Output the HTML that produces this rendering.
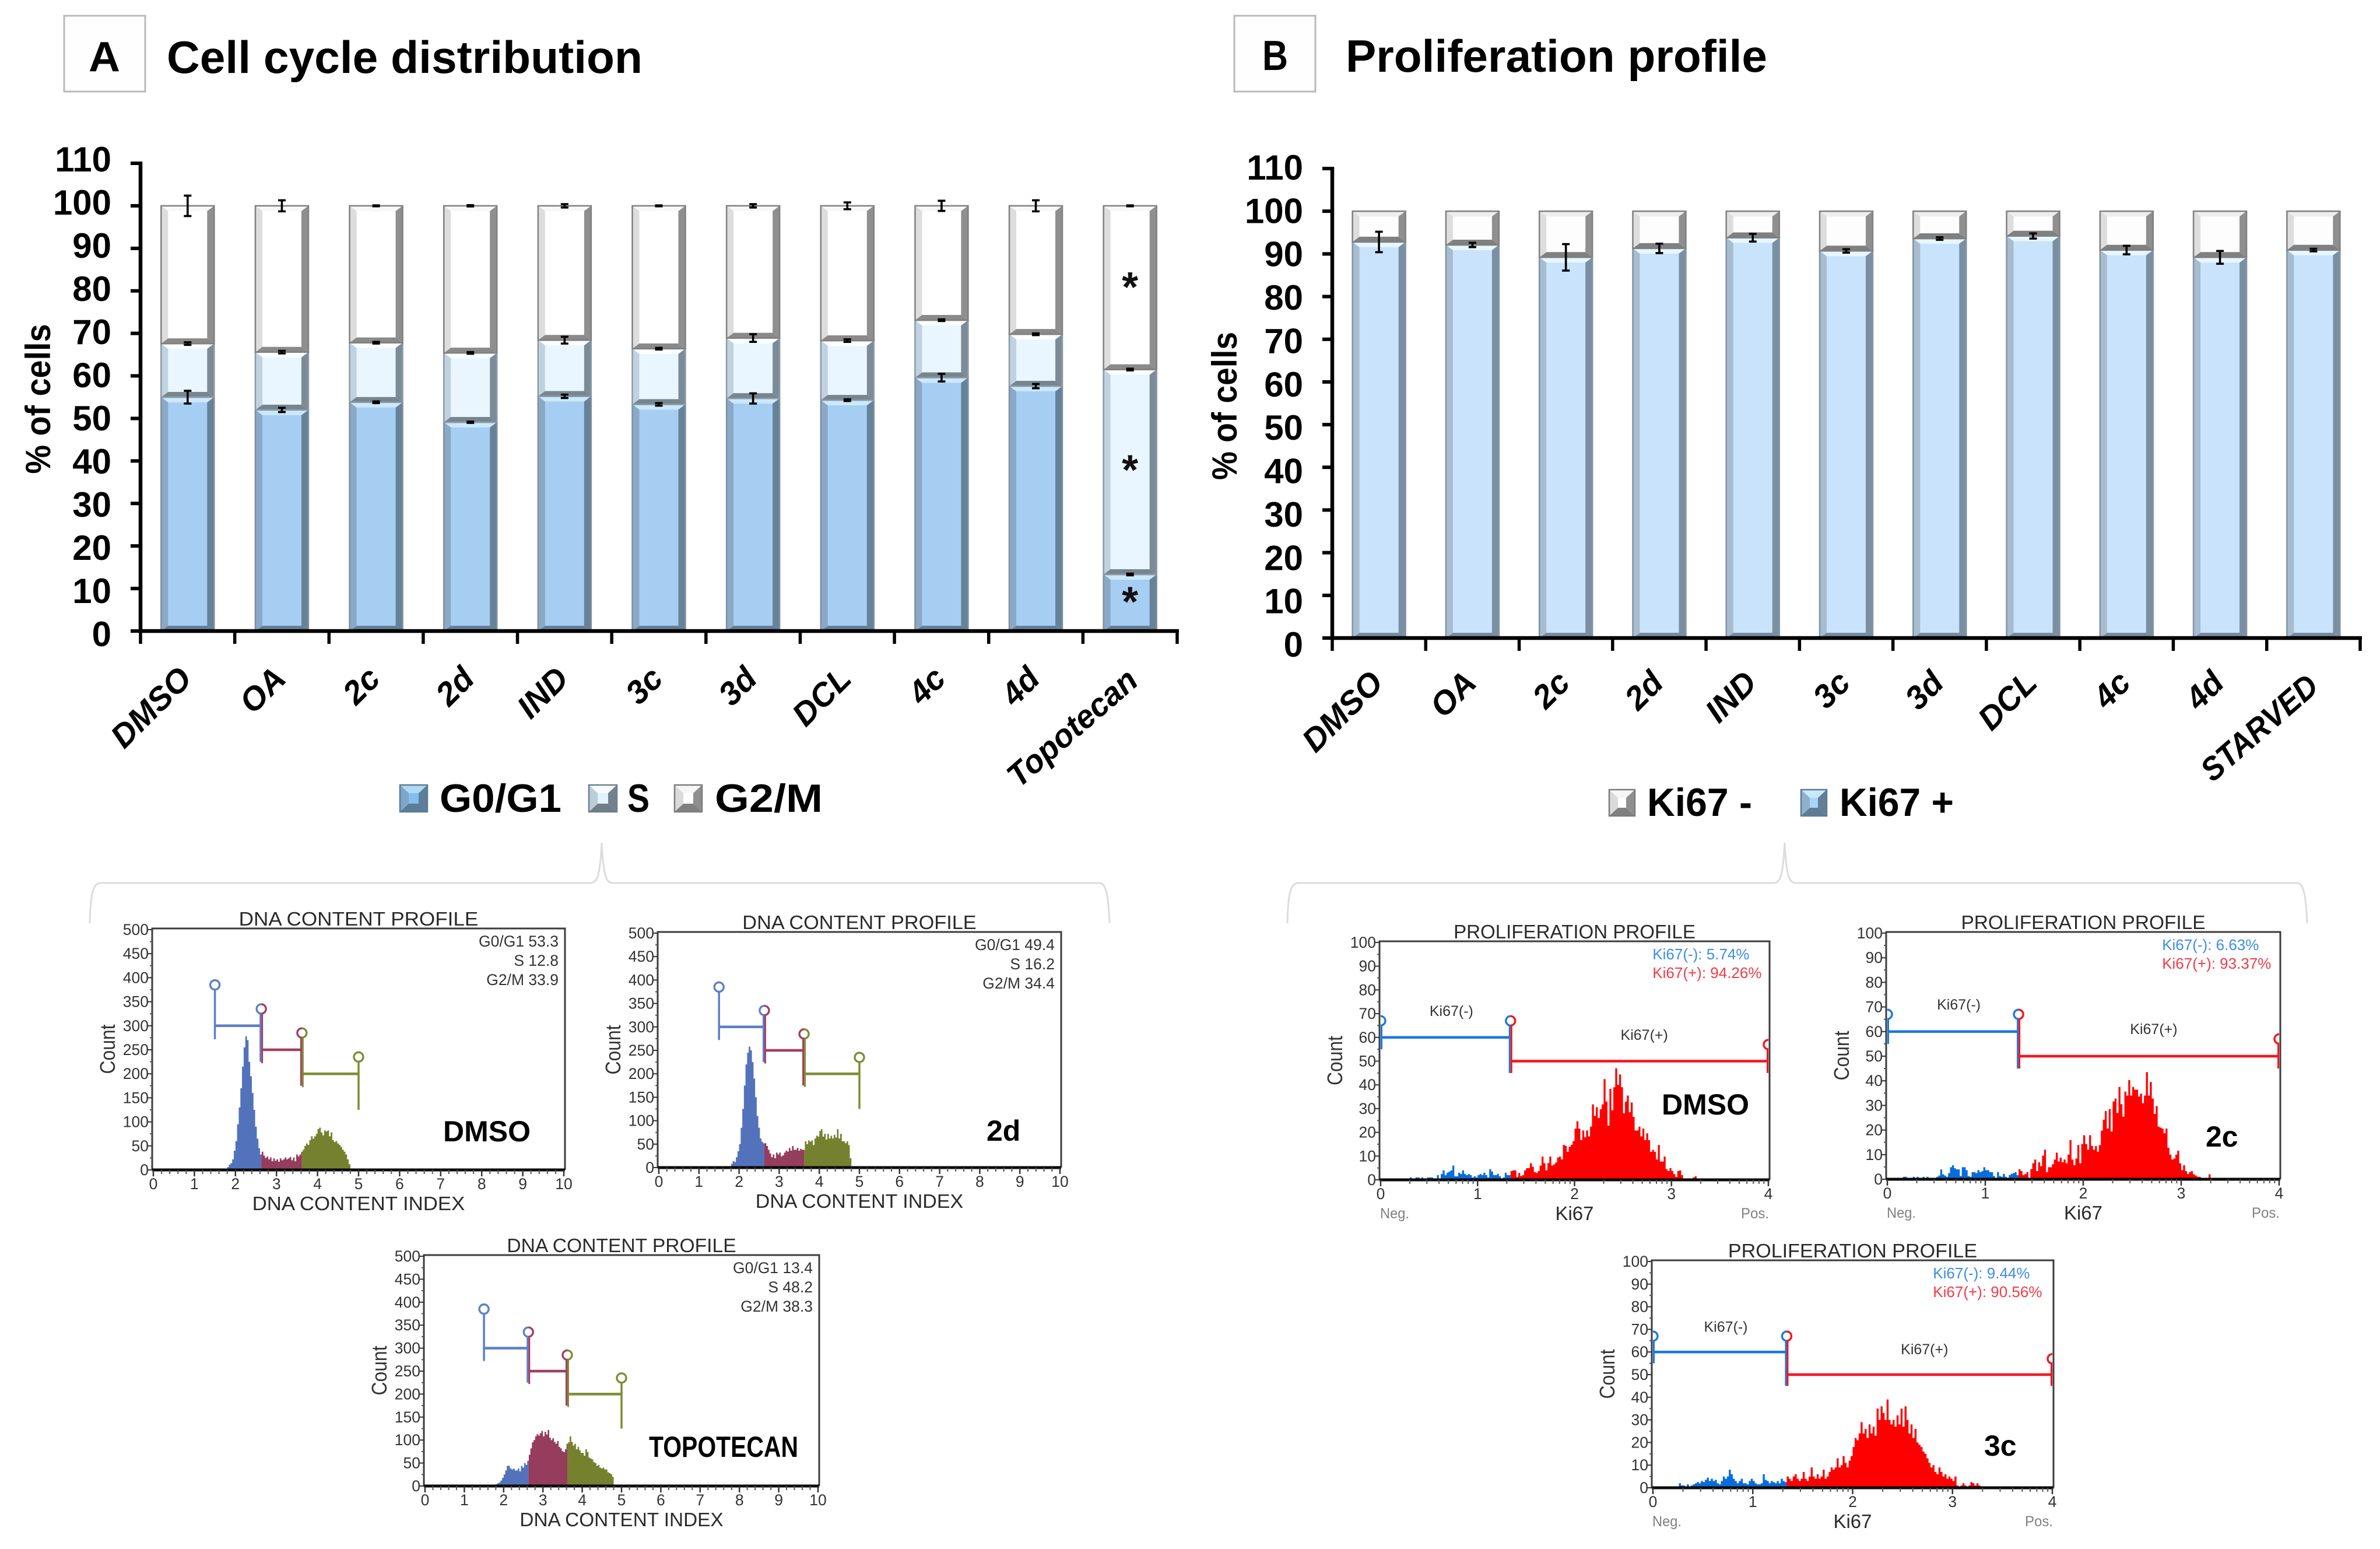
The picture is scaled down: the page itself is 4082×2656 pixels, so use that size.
<!DOCTYPE html>
<html lang="en">
<head>
<meta charset="utf-8">
<title>Cell cycle distribution and proliferation profile</title>
<style>
html,body{margin:0;padding:0;background:#fff}
svg{display:block}
text{font-family:"Liberation Sans",Arial,sans-serif}
</style>
</head>
<body>
<svg id="fig" width="4082" height="2656" viewBox="0 0 4082 2656" xmlns="http://www.w3.org/2000/svg">
  <rect x="0" y="0" width="4082" height="2656" fill="#ffffff"/>

  <rect x="110" y="27" width="139" height="130" fill="#fefefe" stroke="#b9b9b9" stroke-width="3"/>
  <text x="179" y="122" font-size="72" font-weight="700" text-anchor="middle" fill="#000" textLength="54" lengthAdjust="spacingAndGlyphs">A</text>
  <text x="286" y="125" font-size="78" font-weight="700" fill="#000" textLength="816" lengthAdjust="spacingAndGlyphs">Cell cycle distribution</text>

  <rect x="2117" y="27" width="139" height="130" fill="#fefefe" stroke="#b9b9b9" stroke-width="3"/>
  <text x="2187" y="120" font-size="72" font-weight="700" text-anchor="middle" fill="#000" textLength="44" lengthAdjust="spacingAndGlyphs">B</text>
  <text x="2308" y="123" font-size="78" font-weight="700" fill="#000" textLength="723" lengthAdjust="spacingAndGlyphs">Proliferation profile</text>

  <text transform="translate(86 684) rotate(-90)" font-size="60" font-weight="700" text-anchor="middle" fill="#000" textLength="257" lengthAdjust="spacingAndGlyphs">% of cells</text>
  <text transform="translate(2121 696) rotate(-90)" font-size="60" font-weight="700" text-anchor="middle" fill="#000" textLength="254" lengthAdjust="spacingAndGlyphs">% of cells</text>

  <g id="chartA"></g>
  <g id="chartB"></g>

  <g id="legendA">
    <text x="754" y="1392" font-size="68" font-weight="700" textLength="209" lengthAdjust="spacingAndGlyphs">G0/G1</text>
    <text x="1076" y="1392" font-size="68" font-weight="700" textLength="38" lengthAdjust="spacingAndGlyphs">S</text>
    <text x="1226" y="1392" font-size="68" font-weight="700" textLength="185" lengthAdjust="spacingAndGlyphs">G2/M</text>
  </g>
  <g id="legendB">
    <text x="2825" y="1399" font-size="68" font-weight="700" textLength="180" lengthAdjust="spacingAndGlyphs">Ki67 -</text>
    <text x="3155" y="1399" font-size="68" font-weight="700" textLength="196" lengthAdjust="spacingAndGlyphs">Ki67 +</text>
  </g>

  <path d="M154 1583 C155 1540 158 1514 172 1514 L1012 1514 C1024 1514 1029 1505 1032 1445 C1035 1505 1040 1514 1052 1514 L1886 1514 C1898 1514 1901 1540 1903 1583" fill="none" stroke="#dcdcdc" stroke-width="3"/>
  <path d="M2208 1583 C2209 1540 2212 1514 2226 1514 L3041 1514 C3053 1514 3058 1505 3061 1445 C3064 1505 3069 1514 3081 1514 L3940 1514 C3952 1514 3955 1540 3957 1583" fill="none" stroke="#dcdcdc" stroke-width="3"/>

  <g id="smallCharts"></g>
</svg>

<script>
/* ---------- Panel A data ---------- */
const categoriesA = ["DMSO","OA","2c","2d","IND","3c","3d","DCL","4c","4d","Topotecan"];
const g0g1Values = [55.0,52.0,53.8,49.1,55.2,53.3,54.7,54.3,59.6,57.6,13.3];
const sValues = [12.6,13.6,14.0,16.3,13.2,13.1,14.2,14.0,13.5,12.2,48.2];
const g2mValues = [32.4,34.4,32.2,34.6,31.6,33.6,31.1,31.7,26.9,30.2,38.5];
const g0g1Errors = [1.5,0.5,0.2,0.15,0.4,0.3,1.2,0.2,0.9,0.5,0.2];
const sErrors = [0.3,0.3,0.2,0.2,0.8,0.2,0.9,0.3,0.2,0.2,0.2];
const g2mErrors = [2.4,1.3,0.1,0.15,0.4,0.1,0.4,0.8,1.2,1.3,0.1];
const asteriskValues = [82,39,8];

/* ---------- Panel B data ---------- */
const categoriesB = ["DMSO","OA","2c","2d","IND","3c","3d","DCL","4c","4d","STARVED"];
const ki67PosValues = [92.8,92.1,89.2,91.3,93.8,90.7,93.6,94.2,90.9,89.2,90.9];
const ki67NegValues = [7.2,7.9,10.8,8.7,6.2,9.3,6.4,5.8,9.1,10.8,9.1];
const ki67PosErrors = [2.4,0.5,3.1,1.1,0.9,0.4,0.3,0.6,1.0,1.5,0.3];

/* ---------- Shared tick labels ---------- */
const percentTicks = [0,10,20,30,40,50,60,70,80,90,100,110];
const dnaYTicks = [0,50,100,150,200,250,300,350,400,450,500];
const dnaXTicks = [0,1,2,3,4,5,6,7,8,9,10];
const kiYTicks = [0,10,20,30,40,50,60,70,80,90,100];
const kiXTicks = [0,1,2,3,4];

/* ---------- DNA histograms: counts per 0.04 bin, starting at 1.8 ---------- */
const dnaBinStart = 1.8;
const dnaBinWidth = 0.04;
const dnaDmso = [6,11,14,22,40,60,95,130,170,215,255,278,270,225,195,160,125,90,65,45,32,38,30,25,28,22,26,18,24,19,22,17,24,20,22,26,22,24,27,20,26,18,32,28,32,38,42,50,55,52,62,70,65,70,75,85,88,78,72,82,80,82,70,78,62,58,60,55,52,48,42,38,32,22,12];
const dna2d = [8,14,12,22,35,50,85,125,175,220,245,258,250,225,190,150,110,85,62,55,52,52,46,38,30,22,28,20,32,28,32,24,26,32,36,34,42,36,46,38,38,42,36,40,38,38,56,50,58,55,58,48,62,68,66,78,82,66,72,60,72,62,68,62,70,64,82,62,72,56,56,52,56,48,20];
const dnaTopo = [4,6,8,12,18,25,34,44,44,38,36,38,34,34,38,32,44,40,50,46,55,68,82,95,100,108,113,110,115,120,108,118,112,122,105,100,104,96,92,98,85,82,76,74,80,92,95,108,96,88,92,80,85,78,72,72,66,80,74,62,60,58,52,50,44,46,40,38,40,36,36,30,28,26,20];
const dnaGateEdges = [1.5,2.63,3.62,5];
const dnaGateLevels = [300,250,200];
const dnaGateLeftEnds = [[272,385],[222,335],[172,285]];
const dnaGateRightEnds = [[225,335],[175,285],[125,235]];

/* ---------- Ki67 histograms: counts per 0.02 bin, starting at 0 ---------- */
const kiBinWidth = 0.02;
const kiDmso = [0,0,0,0,0,0,0,0,0,0,0,0,0,0,0,1,.5,0,1,1,.5,1,0,0,1,1,1,0,.5,2,.5,2.5,4,2,3,3.5,4,6,1.5,1.5,3,2.5,4,2.5,2,2.5,2,1,1.5,1,2,2.5,2,3,2,1,4.5,3.5,2,2,2.5,1.5,.5,1,3,2,2,3.7,4,4,1.2,2.9,1.6,2,4,4.9,4.9,7,5.5,3.3,2.9,3.7,6,9.8,7,4,7,9.8,6,6.5,7.3,9.4,9.8,8.6,14.7,14.3,11.8,13.9,14.7,16.3,21.6,24.7,21.6,16.7,20.8,17.9,20.8,18.3,22.4,31.8,26.9,30.6,26,29.7,31.8,42.4,33,22.8,38.3,29.3,39,47,40,44.4,39,28,33,35.5,28.5,32.6,26.5,20.8,20.8,22.4,18.3,21.6,16.7,19.6,16.7,11.8,12.6,11.8,8.6,14.7,7.7,7.7,9.8,4.5,3.7,4.9,3.7,2.4,1.2,3.7,4,2,0,0,0,0,0,1,1.5];
const ki2c = [0,0,0,0,0,0,0,0,1,1,0,0,0,1,0,1,0,0,1,.5,1,0,0,0,.5,1,1.5,4,2,1.5,1,2.5,4.9,5.7,4.5,4,4,1.3,4.9,4.9,3.7,1.3,1,2.9,2.9,2.5,3.7,2.9,3.3,4.9,3.7,3.7,2.9,2.9,1.3,.6,2.9,1.3,1,2.2,1,.2,1.7,2.2,2.5,2.9,1.7,4.1,3.3,1.7,2.1,2.9,.5,4.1,6.5,8,3.3,6.9,5.3,9.6,12,2.9,4.9,4.9,6.1,8,10.8,7.2,8.8,6.9,8,6.5,10,15.9,8,5.7,8.4,13.9,6.5,14.3,17.9,14.3,12,17.9,13.5,12,13.5,11.2,13.9,19.8,24.2,27.7,20.6,28.5,19.4,31.6,32.8,26.9,37.5,30.5,25.4,35.6,34,40.3,34,37.5,36.4,36.4,33.6,34.8,30.9,34,43.5,34,39.5,32.8,26.5,29.7,21.4,21,20.6,18.7,20.6,12.8,10,8,8.4,10,11.6,6.5,3.7,5.7,3.3,2.1,2.9,3.3,2,1.5,1,1,.5,.5,.5,.5,2,.5];
const ki3c = [0,0,0,0,0,0,0,0,0,0,0,0,0,2,1,1,.5,1.5,.5,1,1.5,2,2.5,2,3,2.5,3.5,4.5,3,4,3,3.5,2,1.5,3,5,4,5,8,6,4,3,2,3,4,2,2,1.5,3,4,3,2,1.5,1.5,2,6,3.5,3,2,3,2.5,2,3,2,4,3,2.5,5,4,3,5,6,4,3,4,7,4,3,5,9,5,4,6,4,5,8,4,5,7,9,8,9,13,9,10,14,11,9,12,14,18,22,21,24,29,24,26,22,28,24,27,23,35,30,36,33,30,39,30,28,30,27,32,28,35,27,36,30,24,28,22,26,20,19,18,16,15,13,11,9,10,7,6,9,7,5,6,4,5,4,3,5,1,.5,1,2,1,.5,1,2.5,2,1,2,1,.5];
const kiGateEdges = [0,1.34,4];
const kiGateLevels = [60,50];
const kiGateLeftEnds = [[55,67],[45,67]];
const kiGateRightEnds = [[45,67],[45,57]];

/* ---------- Styles ---------- */
const PAL_G0 = {face:"#a6cdf2",top:"#cbe8fc",left:"#8aa9c6",right:"#668299",bottom:"#647f96",border:"#80909f"};
const PAL_S = {face:"#e9f6ff",top:"#fbfeff",left:"#c0d2e0",right:"#7c8b98",bottom:"#77858f",border:"#8d9aa5"};
const PAL_G2 = {face:"#ffffff",top:"#f8f8f8",left:"#dddddd",right:"#8f8f8f",bottom:"#8a8a8a",border:"#808080"};
const PAL_KP = {face:"#c8e3fb",top:"#e8f7ff",left:"#a7bccf",right:"#7b8fa2",bottom:"#788c9f",border:"#8294a5"};
const PAL_KN = {face:"#fdfdfd",top:"#eeeeee",left:"#dddddd",right:"#8f8f8f",bottom:"#808080",border:"#808080"};
const DNA_COLORS = ["#5273bb","#963c5d","#76812f"];
const DNA_GATE_COLORS = ["#5c80c6","#a23e62","#7f8c35"];
const KI_COLORS = ["#0a6cdc","#ff0000"];
const KI_GATE_COLORS = ["#1a78e0","#f5141e"];

/* ---------- Helpers ---------- */
const NS = "http://www.w3.org/2000/svg";
function make(tag, parent, attrs) {
  const e = document.createElementNS(NS, tag);
  for (const k in attrs) e.setAttribute(k, attrs[k]);
  parent.appendChild(e);
  return e;
}
function label(parent, str, x, y, o) {
  o = o || {};
  const a = {x:x, y:y, "font-size":o.size||28, fill:o.fill||"#111"};
  if (o.weight) a["font-weight"] = o.weight;
  if (o.anchor) a["text-anchor"] = o.anchor;
  if (o.style) a["font-style"] = o.style;
  if (o.len) { a.textLength = o.len; a.lengthAdjust = "spacingAndGlyphs"; }
  if (o.rotate !== undefined) a.transform = "rotate(" + o.rotate + " " + x + " " + y + ")";
  const t = make("text", parent, a);
  t.textContent = str;
  return t;
}
function bevelBar(parent, x, w, yT, yB, pal, sb, tb, bb) {
  const h = yB - yT;
  tb = Math.min(tb, h / 3);
  bb = Math.min(bb, h / 3);
  const x2 = x + w;
  const faces = [
    [pal.top, [[x,yT],[x2,yT],[x2-sb,yT+tb],[x+sb,yT+tb]]],
    [pal.bottom, [[x,yB],[x2,yB],[x2-sb,yB-bb],[x+sb,yB-bb]]],
    [pal.left, [[x,yT],[x+sb,yT+tb],[x+sb,yB-bb],[x,yB]]],
    [pal.right, [[x2,yT],[x2-sb,yT+tb],[x2-sb,yB-bb],[x2,yB]]]
  ];
  const f = make("rect", parent, {x:x, y:yT, width:w, height:h, fill:pal.face});
  
  
  faces.forEach(function (d) {
    const p = make("polygon", parent, {fill:d[0], points:d[1].map(function (q) { return q.join(","); }).join(" ")});
    
    
  });
  const b = make("rect", parent, {x:x, y:yT, width:w, height:h, fill:"none", stroke:pal.border, "stroke-width":2.5});
  
  
}

/* ---------- Main stacked charts ---------- */
function drawStacked(root, geo, cats, series) {
  const yS = function (v) { return geo.y0 - v / 110 * (geo.y0 - geo.yTop); };
  const yLabel = function (v) { return geo.labelY0 - v / 110 * (geo.labelY0 - geo.labelY110); };
  const step = (geo.right - geo.left) / cats.length;
  const xC = function (i) { return geo.left + step * (i + 0.5); };

  cats.forEach(function (cat, i) {
    let base = 0;
    series.forEach(function (s) {
      const top = base + s.vals[i];
      const g = make("g", root, {});
      
      
      bevelBar(g, xC(i) - geo.barW / 2, geo.barW, yS(top), yS(base), s.pal, 12, 9, 9);
      base = top;
    });
  });
  cats.forEach(function (cat, i) {
    let base = 0;
    series.forEach(function (s) {
      const top = base + s.vals[i];
      base = top;
      if (!s.errs) return;
      const e = s.errs[i];
      const cx = xC(i);
      const d = "M" + cx + " " + yS(top + e) + "V" + yS(top - e) +
        "M" + (cx - 6.5) + " " + yS(top + e) + "H" + (cx + 6.5) +
        "M" + (cx - 6.5) + " " + yS(top - e) + "H" + (cx + 6.5);
      const p = make("path", root, {d:d, stroke:"#000", "stroke-width":3.6, fill:"none"});
      
      
    });
  });

  const yAxis = make("line", root, {x1:geo.left, x2:geo.left, y1:yS(110) - 3, y2:geo.y0 + 3, stroke:"#000", "stroke-width":6.5});
  
  
  const xAxis = make("line", root, {x1:geo.left - 3, x2:geo.right + 3, y1:geo.y0, y2:geo.y0, stroke:"#000", "stroke-width":6.5});
  
  

  percentTicks.forEach(function (t) {
    const tk = make("line", root, {x1:geo.left - 17, x2:geo.left, y1:yS(t), y2:yS(t), stroke:"#000", "stroke-width":6});
    
    
    const l = label(root, String(t), geo.left - 50, yLabel(t) + 21, {size:60, weight:700, anchor:"end", fill:"#000"});
    
    
  });
  for (let i = 0; i <= cats.length; i++) {
    const tx = geo.left + step * i;
    const tk = make("line", root, {x1:tx, x2:tx, y1:geo.y0, y2:geo.y0 + 22, stroke:"#000", "stroke-width":5.5});
    
    
  }
  cats.forEach(function (cat, i) {
    const long = cat.length > 5;
    const ax = xC(i) + (long ? geo.longDx : 10);
    const ay = long ? geo.longY : geo.labelY;
    const l = label(root, cat, ax, ay, {size:56, weight:700, style:"italic", anchor:"end", fill:"#000", rotate:long ? -41 : -45, len:long ? geo.longLen : undefined});
    
    
  });
  return {yS:yS, xC:xC};
}

const rootA = document.getElementById("chartA");
const axesA = drawStacked(rootA, {left:241, right:2019, y0:1082, yTop:280, barW:91, labelY:1167, labelY0:1087, labelY110:273, longDx:17, longY:1172, longLen:275}, categoriesA, [
  {key:"g0-g1", vals:g0g1Values, errs:g0g1Errors, pal:PAL_G0},
  {key:"s", vals:sValues, errs:sErrors, pal:PAL_S},
  {key:"g2-m", vals:g2mValues, errs:g2mErrors, pal:PAL_G2}
]);
asteriskValues.forEach(function (v) {
  const a = label(rootA, "*", axesA.xC(10), axesA.yS(v) + 33, {size:72, weight:700, anchor:"middle", fill:"#111"});
  
  
});

const rootB = document.getElementById("chartB");
drawStacked(rootB, {left:2285, right:4048, y0:1094, yTop:289, barW:91, labelY:1174, labelY0:1105, labelY110:287, longDx:12, longY:1182, longLen:245}, categoriesB, [
  {key:"ki67-pos", vals:ki67PosValues, errs:ki67PosErrors, pal:PAL_KP},
  {key:"ki67-neg", vals:ki67NegValues, pal:PAL_KN}
]);

/* ---------- Legend swatches ---------- */
function swatch(parent, x, y, w, h, pal) {
  bevelBar(parent, x, w, y, y + h, pal, 15, 14, 14);
}
const legA = document.getElementById("legendA");
const swA1 = make("g", legA, {});


swatch(swA1, 686, 1346, 47, 46, {face:"#86bdec",top:"#aedaf6",left:"#7ea6cb",right:"#5d7e9b",bottom:"#5a7d98",border:"#5f7a90"});
const swA2 = make("g", legA, {});


swatch(swA2, 1010, 1346, 48, 46, {face:"#e2f2fd",top:"#f5fbff",left:"#bccdda",right:"#72818d",bottom:"#6f7e89",border:"#6f7e89"});
const swA3 = make("g", legA, {});


swatch(swA3, 1157, 1346, 47, 46, {face:"#ffffff",top:"#f6f6f6",left:"#dadada",right:"#8f8f8f",bottom:"#808080",border:"#7c7c7c"});
const legB = document.getElementById("legendB");
const swB1 = make("g", legB, {});


swatch(swB1, 2760, 1354, 44, 45, {face:"#ffffff",top:"#f6f6f6",left:"#dadada",right:"#8f8f8f",bottom:"#808080",border:"#7c7c7c"});
const swB2 = make("g", legB, {});


swatch(swB2, 3089, 1354, 44, 45, {face:"#a8d4f6",top:"#c8e8fb",left:"#8fb0cc",right:"#637f98",bottom:"#5f7c94",border:"#627a8e"});

/* ---------- Small histogram panels ---------- */
function marker(parent, x, yLow, yHigh, color, half, name) {
  const r = 8;
  const side = half === "L" ? -1.5 : half === "R" ? 1.5 : 0;
  const ln = make("line", parent, {x1:x + side, x2:x + side, y1:yLow, y2:yHigh + r, stroke:color, "stroke-width":half === "F" ? 3.5 : 3});
  
  
  let d;
  if (half === "F") d = "M" + (x - r) + " " + yHigh + "A" + r + " " + r + " 0 1 1 " + (x + r) + " " + yHigh + "A" + r + " " + r + " 0 1 1 " + (x - r) + " " + yHigh;
  else if (half === "L") d = "M" + x + " " + (yHigh - r) + "A" + r + " " + r + " 0 0 0 " + x + " " + (yHigh + r);
  else d = "M" + x + " " + (yHigh - r) + "A" + r + " " + r + " 0 0 1 " + x + " " + (yHigh + r);
  const c = make("path", parent, {d:d, fill:"none", stroke:color, "stroke-width":3.4});
  
  
}

function drawPanel(root, c) {
  const g = make("g", root, {});
  
  
  const x0 = c.left + 2;
  const x1 = c.right - 2;
  const xS = function (v) { return x0 + v / c.xMax * (x1 - x0); };
  const yS = function (v) { return c.bottom - v / c.yMax * (c.bottom - c.top - 2); };

  /* histogram */
  const colors = c.colors;
  for (let r = 0; r < colors.length; r++) {
    const lo = c.edges[r];
    const hi = c.edges[r + 1];
    let d = "";
    let started = false;
    let lastX = 0;
    c.values.forEach(function (val, i) {
      const a = c.binStart + i * c.binWidth;
      const b = a + c.binWidth;
      const clipA = Math.max(a, r === 0 ? -1 : lo);
      const clipB = Math.min(b, r === colors.length - 1 ? 99 : hi);
      if (clipB <= clipA) return;
      if (!started) { d += "M" + xS(clipA) + " " + yS(0); started = true; }
      d += "L" + xS(clipA) + " " + yS(val) + "L" + xS(clipB) + " " + yS(val);
      lastX = xS(clipB);
    });
    if (started) {
      d += "L" + lastX + " " + yS(0) + "Z";
      const h = make("path", g, {d:d, fill:colors[r]});
      
      
    }
  }

  /* gates */
  c.levels.forEach(function (lvl, i) {
    const col = c.gateColors[i];
    const a = c.edges[i];
    const b = c.edges[i + 1];
    const hl = make("line", g, {x1:xS(a), x2:xS(b), y1:yS(lvl), y2:yS(lvl), stroke:col, "stroke-width":4.5});
    
    
    const first = i === 0 && c.fullEnds;
    const last = i === c.levels.length - 1 && c.fullEnds;
    marker(g, xS(a), yS(c.leftEnds[i][0]), yS(c.leftEnds[i][1]), col, first ? "F" : "R", 'gate-left');
    marker(g, xS(b), yS(c.rightEnds[i][0]), yS(c.rightEnds[i][1]), col, last ? "F" : "L", 'gate-right');
  });

  /* frame */
  const frame = make("path", g, {d:"M" + c.left + " " + c.bottom + "V" + c.top + "H" + c.right + "V" + c.bottom, fill:"none", stroke:"#3c3c3c", "stroke-width":3});
  
  
  const base = make("line", g, {x1:c.left, x2:c.right, y1:c.bottom, y2:c.bottom, stroke:"#0a0a0a", "stroke-width":5});
  
  

  /* y ticks */
  c.yTicks.forEach(function (t, i) {
    const tk = make("line", g, {x1:c.left - 7, x2:c.left, y1:yS(t), y2:yS(t), stroke:"#333", "stroke-width":2});
    
    
    if (i < c.yTicks.length - 1) {
      const m = (t + c.yTicks[i + 1]) / 2;
      const mt = make("line", g, {x1:c.left - 4, x2:c.left, y1:yS(m), y2:yS(m), stroke:"#555", "stroke-width":2});
      
      
    }
    const l = label(g, String(t), c.left - 6, yS(t) + 9, {size:26.5, anchor:"end", fill:"#333"});
    
    
  });

  /* x ticks */
  c.xTicks.forEach(function (t, i) {
    const tk = make("line", g, {x1:xS(t), x2:xS(t), y1:c.bottom, y2:c.bottom + 11, stroke:"#333", "stroke-width":2.5});
    
    
    const l = label(g, String(t), xS(t), c.bottom + 33, {size:26.5, anchor:"middle", fill:"#333"});
    
    
    if (i < c.xTicks.length - 1) {
      c.minorOffsets.forEach(function (o) {
        const mt = make("line", g, {x1:xS(t + o), x2:xS(t + o), y1:c.bottom, y2:c.bottom + 7, stroke:"#555", "stroke-width":2});
        
        
      });
    }
  });

  /* titles */
  const mid = (c.left + c.right) / 2;
  const tt = label(g, c.title, mid, c.top - 5, {size:33, anchor:"middle", fill:"#2a2a2a", len:c.titleLen});
  
  
  const xt = label(g, c.xTitle, mid, c.bottom + 69, {size:33, anchor:"middle", fill:"#2a2a2a", len:c.xTitleLen});
  
  
  const cnt = label(g, "Count", c.left - 64, (c.top + c.bottom) / 2, {size:36, anchor:"middle", fill:"#333", rotate:-90, len:85});
  
  
  const tag = label(g, c.tag, c.tagX, c.tagY, {size:50, weight:700, fill:"#000", len:c.tagLen});
  
  
  return {g:g, xS:xS, yS:yS};
}

function dnaPanel(name, left, right, top, bottom, values, stats, tag, tagX, tagY, tagLen) {
  const c = {name:name, left:left, right:right, top:top, bottom:bottom, xMax:10, yMax:500,
    values:values, binStart:dnaBinStart, binWidth:dnaBinWidth, edges:dnaGateEdges, levels:dnaGateLevels,
    leftEnds:dnaGateLeftEnds, rightEnds:dnaGateRightEnds, colors:DNA_COLORS, gateColors:DNA_GATE_COLORS, fullEnds:true,
    yTicks:dnaYTicks, xTicks:dnaXTicks, minorOffsets:[0.2,0.4,0.6,0.8],
    title:"DNA CONTENT PROFILE", titleLen:(right - left) * 0.58, xTitle:"DNA CONTENT INDEX", xTitleLen:(right - left) * 0.515,
    tag:tag, tagX:tagX, tagY:tagY, tagLen:tagLen};
  const p = drawPanel(document.getElementById("smallCharts"), c);
  stats.forEach(function (s, i) {
    const t = label(p.g, s, right - 11, top + 31 + i * 33, {size:26.5, anchor:"end", fill:"#333"});
    
    
  });
}

function kiPanel(name, left, right, top, bottom, values, stats, tag, tagX, tagY, tagLen) {
  const logs = [Math.log10(2),Math.log10(3),Math.log10(4),Math.log10(5),Math.log10(6),Math.log10(7),Math.log10(8),Math.log10(9)];
  const c = {name:name, left:left, right:right, top:top, bottom:bottom, xMax:4, yMax:100,
    values:values, binStart:0, binWidth:kiBinWidth, edges:kiGateEdges, levels:kiGateLevels,
    leftEnds:kiGateLeftEnds, rightEnds:kiGateRightEnds, colors:KI_COLORS, gateColors:KI_GATE_COLORS, fullEnds:false,
    yTicks:kiYTicks, xTicks:kiXTicks, minorOffsets:logs,
    title:"PROLIFERATION PROFILE", titleLen:(right - left) * 0.62, xTitle:"Ki67",
    tag:tag, tagX:tagX, tagY:tagY, tagLen:tagLen};
  const p = drawPanel(document.getElementById("smallCharts"), c);
  const cols = ["#3c8de8","#f03c46"];
  const sx = left + (right - left) * 0.7;
  stats.forEach(function (s, i) {
    const t = label(p.g, s, sx, top + 31 + i * 32, {size:26, fill:cols[i]});
    
    
  });
  const a = label(p.g, "Ki67(-)", p.xS(0.73), p.yS(69), {size:25, anchor:"middle", fill:"#333"});
  
  
  const b = label(p.g, "Ki67(+)", p.xS(2.72), p.yS(59), {size:25, anchor:"middle", fill:"#333"});
  
  
  const n = label(p.g, "Neg.", left + 1, bottom + 66, {size:25, fill:"#808080", len:50});
  
  
  const po = label(p.g, "Pos.", right - 1, bottom + 66, {size:25, anchor:"end", fill:"#808080", len:48});
  
  
}

dnaPanel("dna-profile-dmso", 261, 969, 1592, 2006, dnaDmso, ["G0/G1 53.3","S 12.8","G2/M 33.9"], "DMSO", 760, 1957);
dnaPanel("dna-profile-2d", 1128, 1820, 1598, 2002, dna2d, ["G0/G1 49.4","S 16.2","G2/M 34.4"], "2d", 1692, 1956);
dnaPanel("dna-profile-topotecan", 727, 1405, 2152, 2548, dnaTopo, ["G0/G1 13.4","S 48.2","G2/M 38.3"], "TOPOTECAN", 1113, 2498, 256);
kiPanel("ki67-profile-dmso", 2366, 3035, 1614, 2023, kiDmso, ["Ki67(-): 5.74%","Ki67(+): 94.26%"], "DMSO", 2850, 1911);
kiPanel("ki67-profile-2c", 3235, 3911, 1598, 2022, ki2c, ["Ki67(-): 6.63%","Ki67(+): 93.37%"], "2c", 3783, 1966);
kiPanel("ki67-profile-3c", 2833, 3522, 2161, 2551, ki3c, ["Ki67(-): 9.44%","Ki67(+): 90.56%"], "3c", 3403, 2496);
</script>
</body>
</html>
